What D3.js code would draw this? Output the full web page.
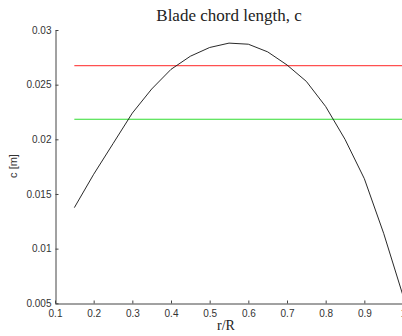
<!DOCTYPE html>
<html>
<head>
<meta charset="utf-8">
<script src="https://cdn.jsdelivr.net/npm/d3@7"></script>
<style>
  body { margin: 0; background: #fff; }
  .tick text { font-family: Arial, "Liberation Sans", sans-serif; font-size: 10px; fill: #333; }
</style>
</head>
<body>
<div id="chart"></div>
<script>
// r/R stations and chord length
const rR = [0.15, 0.2, 0.25, 0.3, 0.35, 0.4, 0.45, 0.5, 0.55, 0.6, 0.65, 0.7, 0.75, 0.8, 0.85, 0.9, 0.95, 1.0]
const chord = [0.01375, 0.0168, 0.0196, 0.0224, 0.0246, 0.0264, 0.0276, 0.0284, 0.0288, 0.0287,
  0.0280, 0.0268, 0.0253, 0.0230, 0.0200, 0.0164, 0.0114, 0.0057]
// horizontal reference levels
const redLevel = 0.02674
const greenLevel = 0.02183
const xTicks = [0.1, 0.2, 0.3, 0.4, 0.5, 0.6, 0.7, 0.8, 0.9, 1]
const yTicks = [0.005, 0.01, 0.015, 0.02, 0.025, 0.03]

let W = 402, H = 336
let svg = d3.select('#chart').append('svg').attr('width', W).attr('height', H)

let x = d3.scaleLinear().domain([0.1, 1]).range([55, 403])
let y = d3.scaleLinear().domain([0.005, 0.03]).range([303.3, 30])

// axes, MATLAB style: ticks pointing inward
svg.append('g')
  .attr('transform', 'translate(0,303.5)')
  .call(d3.axisBottom(x).tickValues(xTicks).tickSizeInner(-3).tickSizeOuter(0).tickPadding(6)
    .tickFormat(d => d === 1 ? '1' : d3.format('.1f')(d)))
  .call(g => g.selectAll('line, path').attr('stroke', '#444'))

svg.append('g')
  .attr('transform', 'translate(55.5,0)')
  .call(d3.axisLeft(y).tickValues(yTicks).tickSizeInner(-3).tickSizeOuter(0).tickPadding(4)
    .tickFormat(d => String(+d.toFixed(3))))
  .call(g => g.selectAll('line, path').attr('stroke', '#444'))

// reference lines
svg.append('line')
  .attr('x1', x(0.15)).attr('x2', x(1))
  .attr('y1', y(redLevel)).attr('y2', y(redLevel))
  .attr('stroke', '#ff5050').attr('stroke-width', 1.3)

svg.append('line')
  .attr('x1', x(0.15)).attr('x2', x(1))
  .attr('y1', y(greenLevel)).attr('y2', y(greenLevel))
  .attr('stroke', '#30dd30').attr('stroke-width', 1.1)

// chord curve
let data = rR.map((r, i) => ({ r: r, c: chord[i] }))
svg.append('path')
  .datum(data)
  .attr('fill', 'none')
  .attr('stroke', '#111')
  .attr('stroke-width', 0.9)
  .attr('d', d3.line().x(d => x(d.r)).y(d => y(d.c)))

// labels
svg.append('text')
  .attr('x', 229).attr('y', 20.5)
  .attr('text-anchor', 'middle')
  .style('font-family', '"Liberation Serif", "Times New Roman", serif')
  .style('font-size', '17px')
  .attr('fill', '#222')
  .text('Blade chord length, c')

svg.append('text')
  .attr('x', 226).attr('y', 330)
  .attr('text-anchor', 'middle')
  .style('font-family', '"Liberation Serif", "Times New Roman", serif')
  .style('font-size', '14px')
  .attr('fill', '#222')
  .text('r/R')

svg.append('text')
  .attr('transform', 'translate(17,166) rotate(-90)')
  .attr('text-anchor', 'middle')
  .style('font-family', 'Arial, "Liberation Sans", sans-serif')
  .style('font-size', '11px')
  .attr('fill', '#333')
  .text('c [m]')
</script>
</body>
</html>
